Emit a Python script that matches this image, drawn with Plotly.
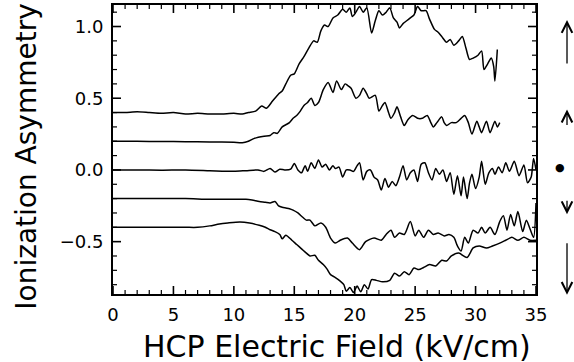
import plotly.graph_objects as go

# ---- data ----
x1 = [0, 1, 2, 3, 4, 5, 6, 7, 8, 9, 10, 10.7, 11.2, 11.8, 12.3, 12.7, 13.2, 13.7, 14.0, 14.3, 14.7, 15.0,
      15.4, 15.8, 16.2, 16.6, 16.9, 17.2, 17.5, 17.8, 18.2, 18.6, 19.0, 19.3, 19.6, 19.8, 20.1, 20.4, 20.7,
      21.0, 21.4, 21.7, 22.0, 22.3, 22.6, 22.9, 23.2, 23.5, 23.7, 24.0, 24.3, 24.6, 24.9, 25.2, 25.5, 25.9,
      26.2, 26.6, 26.9, 27.2, 27.6, 27.9, 28.2, 28.6, 28.9, 29.2, 29.5, 29.8, 30.2, 30.5, 30.7, 31.0, 31.3,
      31.5, 31.6, 31.8]
y1 = [0.40, 0.40, 0.405, 0.40, 0.395, 0.40, 0.39, 0.395, 0.39, 0.39, 0.395, 0.39, 0.40, 0.41, 0.445, 0.43,
      0.48, 0.53, 0.55, 0.60, 0.66, 0.67, 0.74, 0.79, 0.85, 0.90, 0.89, 0.97, 1.01, 1.00, 1.06, 1.08, 1.12,
      1.10, 1.13, 1.07, 1.10, 1.14, 1.10, 1.13, 0.955, 1.04, 1.11, 1.08, 1.10, 1.13, 1.06, 1.03, 0.99, 1.02,
      1.04, 1.06, 1.08, 1.14, 1.11, 1.11, 1.05, 0.98, 0.96, 0.93, 0.89, 0.91, 0.87, 0.90, 0.93, 0.85, 0.77,
      0.78, 0.80, 0.83, 0.70, 0.74, 0.78, 0.72, 0.62, 0.84]

x2 = [0, 2, 4, 6, 8, 9, 10, 10.7, 11.2, 11.7, 12.5, 13.0, 13.3, 13.6, 14.0, 14.3, 14.6, 14.9, 15.2, 15.5,
      15.8, 16.1, 16.4, 16.7, 17.0, 17.4, 17.8, 18.2, 18.5, 18.9, 19.2, 19.4, 19.7, 20.1, 20.4, 20.7, 21.0,
      21.2, 21.7, 22.0, 22.3, 22.5, 22.8, 23.0, 23.3, 23.5, 23.8, 24.1, 24.4, 24.8, 25.2, 25.6, 26.0, 26.3,
      26.5, 26.8, 27.2, 27.4, 27.6, 28.0, 28.4, 28.8, 29.1, 29.4, 29.7, 30.1, 30.3, 30.5, 30.9, 31.2, 31.6,
      31.8, 32.0]
y2 = [0.20, 0.20, 0.198, 0.197, 0.195, 0.195, 0.193, 0.19, 0.20, 0.22, 0.235, 0.24, 0.26, 0.255, 0.30,
      0.315, 0.33, 0.36, 0.38, 0.41, 0.45, 0.47, 0.50, 0.45, 0.47, 0.56, 0.61, 0.54, 0.62, 0.56, 0.60, 0.59,
      0.57, 0.50, 0.52, 0.57, 0.53, 0.50, 0.52, 0.41, 0.45, 0.47, 0.40, 0.36, 0.40, 0.44, 0.37, 0.31, 0.35,
      0.38, 0.36, 0.36, 0.38, 0.33, 0.30, 0.33, 0.37, 0.33, 0.31, 0.33, 0.33, 0.36, 0.38, 0.33, 0.25, 0.34,
      0.30, 0.26, 0.34, 0.26, 0.34, 0.30, 0.33]

x3 = [0, 2, 4, 6, 8, 10, 11, 12, 12.5, 13, 13.4, 13.8, 14.2, 14.7, 15.0, 15.3, 15.6, 15.9, 16.1, 16.4, 16.7,
      17.0, 17.3, 17.6, 17.9, 18.2, 18.4, 18.7, 19.0, 19.3, 19.6, 19.9, 20.2, 20.4, 20.7, 21.0, 21.3, 21.6,
      21.9, 22.2, 22.5, 22.8, 23.1, 23.4, 23.7, 24.0, 24.3, 24.6, 24.9, 25.2, 25.5, 25.8, 26.1, 26.4, 26.7,
      27.0, 27.3, 27.6, 27.9, 28.2, 28.5, 28.8, 29.0, 29.3, 29.5, 29.7, 30.0, 30.3, 30.5, 30.8, 31.1, 31.4,
      31.6, 31.9, 32.2, 32.5, 32.8, 33.2, 33.6, 34.0, 34.3, 34.6, 34.8, 35.0]
y3 = [0.0, 0.0, -0.002, 0.0, -0.005, -0.01, -0.005, 0.0, -0.01, 0.01, -0.015, 0.005, 0.0, 0.005, 0.045,
      0.0, -0.02, 0.03, -0.01, 0.05, 0.01, 0.07, 0.02, 0.04, 0.0, 0.03, 0.01, 0.02, -0.05, 0.0, 0.0, -0.01,
      0.03, 0.05, -0.07, -0.01, 0.0, -0.05, -0.07, -0.14, -0.06, -0.12, -0.08, -0.11, -0.05, 0.03, -0.07,
      -0.02, 0.0, -0.08, 0.04, 0.05, -0.02, -0.07, 0.01, -0.03, 0.0, -0.08, -0.02, -0.17, -0.04, -0.18,
      -0.05, -0.20, -0.09, -0.03, -0.13, -0.05, 0.06, -0.10, -0.02, 0.01, -0.03, 0.02, -0.02, 0.05, -0.01,
      0.06, -0.04, 0.035, -0.09, -0.05, 0.08, 0.0]

x4 = [0, 2, 4, 6, 8, 10, 11, 11.5, 12.1, 12.6, 13.0, 13.4, 13.7, 14.0, 14.3, 14.6, 14.9, 15.3, 15.7, 16.0,
      16.3, 16.7, 17.2, 17.6, 18.0, 18.4, 18.8, 19.4, 19.8, 20.4, 20.9, 21.6, 22.2, 22.6, 23.0, 23.3, 23.7,
      24.1, 24.6, 25.0, 25.3, 25.7, 26.1, 26.5, 26.9, 27.4, 27.8, 28.2, 28.5, 28.8, 29.1, 29.4, 29.8, 30.2,
      30.5, 30.8, 31.2, 31.6, 32.0, 32.3, 32.6, 32.9, 33.2, 33.5, 33.9, 34.2, 34.5, 34.8, 35.0]
y4 = [-0.20, -0.20, -0.20, -0.20, -0.205, -0.205, -0.205, -0.21, -0.22, -0.225, -0.23, -0.22, -0.25, -0.26,
      -0.265, -0.27, -0.28, -0.30, -0.33, -0.35, -0.35, -0.39, -0.37, -0.40, -0.475, -0.51, -0.49, -0.475,
      -0.51, -0.556, -0.50, -0.475, -0.49, -0.45, -0.42, -0.47, -0.44, -0.45, -0.36, -0.46, -0.42, -0.47,
      -0.42, -0.45, -0.44, -0.46, -0.45, -0.47, -0.53, -0.565, -0.47, -0.51, -0.42, -0.44, -0.40, -0.44,
      -0.40, -0.45, -0.36, -0.32, -0.42, -0.31, -0.39, -0.29, -0.43, -0.35, -0.41, -0.47, -0.23]

x5 = [0, 2, 4, 6, 7, 8, 8.8, 9.5, 10.5, 11.3, 12.1, 12.6, 13.0, 13.4, 13.8, 14.0, 14.3, 14.8, 15.2, 15.6,
      16.0, 16.3, 16.7, 17.0, 17.4, 17.7, 18.0, 18.4, 18.8, 19.1, 19.3, 19.6, 19.9, 20.2, 20.5, 20.8, 21.1,
      21.4, 21.8, 22.3, 22.9, 23.3, 23.7, 24.1, 24.5, 24.9, 25.3, 25.7, 26.2, 26.7, 27.2, 27.6, 28.0, 28.6,
      29.3, 29.8, 30.3, 30.9, 31.4, 32.0, 32.5, 33.0, 33.5, 34.0, 34.5, 35.0]
y5 = [-0.40, -0.40, -0.40, -0.40, -0.40, -0.39, -0.377, -0.37, -0.363, -0.37, -0.386, -0.40, -0.417, -0.43,
      -0.45, -0.48, -0.455, -0.49, -0.52, -0.55, -0.58, -0.60, -0.595, -0.63, -0.66, -0.69, -0.73, -0.75,
      -0.775, -0.80, -0.845, -0.82, -0.855, -0.81, -0.85, -0.80, -0.83, -0.765, -0.77, -0.78, -0.77, -0.72,
      -0.74, -0.71, -0.73, -0.684, -0.695, -0.68, -0.66, -0.67, -0.63, -0.635, -0.60, -0.58, -0.61, -0.544,
      -0.53, -0.545, -0.53, -0.51, -0.49, -0.47, -0.49, -0.47, -0.49, -0.49]

# tick positions
x_major = [0, 5, 10, 15, 20, 25, 30, 35]
x_minor = [1, 2, 3, 4, 6, 7, 8, 9, 11, 12, 13, 14, 16, 17, 18, 19, 21, 22, 23, 24,
           26, 27, 28, 29, 31, 32, 33, 34]
y_major = [-0.5, 0.0, 0.5, 1.0]
y_minor = [-0.8, -0.7, -0.6, -0.4, -0.3, -0.2, -0.1, 0.1, 0.2, 0.3, 0.4, 0.6, 0.7, 0.8, 0.9, 1.1]

X_RANGE = [0, 35]
Y_RANGE = [-0.865, 1.15]
FONT = "DejaVu Sans"

W, H = 574, 362
M = dict(l=113, r=38, t=5, b=68)
plot_w = W - M["l"] - M["r"]
plot_h = H - M["t"] - M["b"]
px_x = (X_RANGE[1] - X_RANGE[0]) / plot_w   # data units per pixel (x)
px_y = (Y_RANGE[1] - Y_RANGE[0]) / plot_h   # data units per pixel (y)

fig = go.Figure()
for xs, ys in [(x1, y1), (x2, y2), (x3, y3), (x4, y4), (x5, y5)]:
    fig.add_trace(go.Scatter(x=xs, y=ys, mode="lines",
                             line=dict(color="black", width=1.5, shape="spline", smoothing=0.7),
                             showlegend=False, hoverinfo="skip"))


def tick_segments(xvals, yvals, length_px):
    """Inside tick segments on all four sides, as one None-separated polyline."""
    tx, ty = [], []
    ly = length_px * px_y
    lx = length_px * px_x
    for v in xvals:
        tx += [v, v, None, v, v, None]
        ty += [Y_RANGE[0], Y_RANGE[0] + ly, None, Y_RANGE[1], Y_RANGE[1] - ly, None]
    for v in yvals:
        tx += [X_RANGE[0], X_RANGE[0] + lx, None, X_RANGE[1], X_RANGE[1] - lx, None]
        ty += [v, v, None, v, v, None]
    return tx, ty


for xv, yv, L, wdt in [(x_major, y_major, 8, 1.6), (x_minor, y_minor, 4, 1.2)]:
    tx, ty = tick_segments(xv, yv, L)
    fig.add_trace(go.Scatter(x=tx, y=ty, mode="lines", line=dict(color="black", width=wdt),
                             showlegend=False, hoverinfo="skip", connectgaps=False))

axis_common = dict(showline=True, linecolor="black", linewidth=2, mirror=True,
                   ticks="", showgrid=False, zeroline=False, automargin=False,
                   tickfont=dict(family=FONT, size=18, color="black"))

fig.update_xaxes(range=X_RANGE, tickmode="array", tickvals=x_major, ticklabelstandoff=3, **axis_common)
fig.update_yaxes(range=Y_RANGE, tickmode="array", tickvals=y_major, tickformat=".1f",
                 ticklabelstandoff=4, **axis_common)

# axis titles as annotations for precise placement
fig.add_annotation(text="HCP Electric Field (kV/cm)", xref="paper", yref="paper",
                   x=0.53, y=-0.18, xanchor="center", yanchor="middle", showarrow=False,
                   font=dict(family=FONT, size=30, color="black"))
fig.add_annotation(text="Ionization Asymmetry", xref="paper", yref="paper", textangle=-90,
                   x=-0.2033, y=0.475, xanchor="center", yanchor="middle", showarrow=False,
                   font=dict(family=FONT, size=28, color="black"))

# right-side markers
arrow_style = dict(xref="paper", yref="paper", text="", showarrow=True, arrowhead=5,
                   arrowsize=1.6, arrowwidth=1.3, arrowcolor="black", axref="pixel", ayref="pixel", ax=0)
fig.add_annotation(x=1.0733, y=0.948, ay=45, **arrow_style)
fig.add_annotation(x=1.0733, y=0.638, ay=17, **arrow_style)
fig.add_annotation(x=1.0733, y=0.276, ay=-15, **arrow_style)
fig.add_annotation(x=1.0733, y=-0.003, ay=-53, **arrow_style)
fig.add_annotation(x=1.0733, y=0.438, xref="paper", yref="paper", text="\u25CF", showarrow=False,
                   font=dict(size=11, color="black"))

fig.update_layout(width=W, height=H, margin=M,
                  paper_bgcolor="white", plot_bgcolor="white",
                  font=dict(family=FONT, color="black"))

fig.write_html("out.html")
